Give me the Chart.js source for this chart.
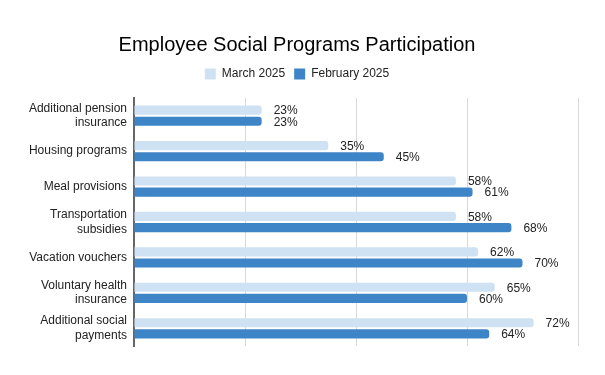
<!DOCTYPE html>
<html>
<head>
<meta charset="utf-8">
<script src="https://cdn.jsdelivr.net/npm/chart.js@4"></script>
<style>
  html, body { margin: 0; padding: 0; background: #fff; }
  #wrap { width: 605px; height: 375px; }
</style>
</head>
<body>
<div id="wrap"><canvas id="chart" width="605" height="375"></canvas></div>
<script>
const categories = [
    ["Additional pension", "insurance"],
    "Housing programs",
    "Meal provisions",
    ["Transportation", "subsidies"],
    "Vacation vouchers",
    ["Voluntary health", "insurance"],
    ["Additional social", "payments"]
];
const march2025 = [23, 35, 58, 58, 62, 65, 72];
const february2025 = [23, 45, 61, 68, 70, 60, 64];
const xTicks = [0, 20, 40, 60, 80];

// draws "NN%" right of each bar
const valueLabels = {
    id: "valueLabels",
    afterDatasetsDraw: function (chart) {
        const ctx = chart.ctx;
        ctx.save();
        ctx.font = "12px 'Liberation Sans', sans-serif";
        ctx.fillStyle = "#222";
        ctx.textAlign = "left";
        ctx.textBaseline = "middle";
        chart.data.datasets.forEach(function (ds, i) {
            chart.getDatasetMeta(i).data.forEach(function (bar, j) {
                ctx.fillText(ds.data[j] + "%", bar.x + 12, bar.y + 1);
            });
        });
        ctx.restore();
    }
};

// extra room under the legend
const legendGap = {
    id: "legendGap",
    beforeInit: function (chart) {
        const fit = chart.legend.fit;
        chart.legend.fit = function () {
            fit.call(this);
            this.height += 8;
        };
    }
};

new Chart(document.getElementById("chart"), {
    type: "bar",
    data: {
        labels: categories,
        datasets: [{
            label: "March 2025",
            data: march2025,
            backgroundColor: "#cfe2f3",
            borderRadius: 3,
            categoryPercentage: 0.63,
            barPercentage: 0.82
        }, {
            label: "February 2025",
            data: february2025,
            backgroundColor: "#3d85c6",
            borderRadius: 3,
            categoryPercentage: 0.63,
            barPercentage: 0.82
        }]
    },
    options: {
        indexAxis: "y",
        responsive: false,
        animation: false,
        layout: { padding: { left: 16, right: 27, top: 0, bottom: 29 } },
        plugins: {
            title: {
                display: true,
                text: "Employee Social Programs Participation",
                color: "#000",
                font: { family: "Liberation Sans", size: 20, weight: "normal" },
                padding: { top: 33, bottom: 2 }
            },
            legend: {
                labels: {
                    color: "#222",
                    font: { family: "Liberation Sans", size: 12 },
                    boxWidth: 11,
                    boxHeight: 11,
                    padding: 9
                }
            },
            tooltip: { enabled: false }
        },
        scales: {
            x: {
                min: 0,
                max: 80,
                afterBuildTicks: function (axis) {
                    axis.ticks = xTicks.map(function (v) { return { value: v }; });
                },
                ticks: { display: false },
                grid: { color: "#d9d9d9", drawTicks: false },
                border: { display: false }
            },
            y: {
                afterFit: function (axis) { axis.width = 118; },
                ticks: {
                    color: "#222",
                    font: { family: "Liberation Sans", size: 12 },
                    padding: 7
                },
                grid: { display: false, drawTicks: false },
                border: { display: true, color: "#666", width: 2 }
            }
        }
    },
    plugins: [valueLabels, legendGap]
});
</script>
</body>
</html>
